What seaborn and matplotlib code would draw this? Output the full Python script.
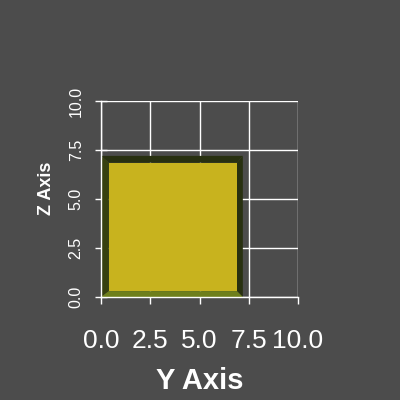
import matplotlib
matplotlib.use('Agg')
import matplotlib.pyplot as plt
import seaborn as sns

# Y/Z extents of the box (outer near edge and inner far face), in data units
outer_y = [0.0, 7.2]
outer_z = [0.0, 7.2]
inner_y = [0.4, 6.9]
inner_z = [0.3, 6.85]

ticks = [0.0, 2.5, 5.0, 7.5, 10.0]
tick_labels = ['0.0', '2.5', '5.0', '7.5', '10.0']

bg = '#4c4c4c'
face_color = '#c8b31e'
top_color = '#283010'
right_color = '#283010'
left_color = '#37400f'
bottom_color = '#6e7f1b'

sns.set_theme(style='darkgrid', rc={
    'figure.facecolor': bg,
    'axes.facecolor': bg,
    'grid.color': 'white',
    'grid.linewidth': 1.0,
})
plt.rcParams['font.family'] = ['Liberation Sans', 'DejaVu Sans']

fig = plt.figure(figsize=(4, 4), dpi=100)
ax = fig.add_axes([0.2525, 0.2575, 0.4925, 0.49])

y0, y1 = outer_y
z0, z1 = outer_z
iy0, iy1 = inner_y
iz0, iz1 = inner_z

# side bands of the box seen in perspective
ax.fill([y0, y1, iy1, iy0], [z1, z1, iz1, iz1], color=top_color, lw=0, zorder=1)
ax.fill([y0, iy0, iy0, y0], [z0, iz0, iz1, z1], color=left_color, lw=0, zorder=1)
ax.fill([y1, y1, iy1, iy1], [z0, z1, iz1, iz0], color=right_color, lw=0, zorder=1)
ax.fill([y0, y1, iy1, iy0], [z0, z0, iz0, iz0], color=bottom_color, lw=0, zorder=1)
# front face
ax.fill([iy0, iy1, iy1, iy0], [iz0, iz0, iz1, iz1], color=face_color, lw=0, zorder=1)

ax.set_xlim(0, 10)
ax.set_ylim(0, 10)
ax.set_axisbelow(True)
ax.set_xticks(ticks)
ax.set_xticklabels(tick_labels)
ax.set_yticks(ticks)
ax.set_yticklabels(tick_labels, rotation=90, va='center')

for side in ['top', 'right']:
    ax.spines[side].set_visible(False)
for side in ['left', 'bottom']:
    ax.spines[side].set_visible(True)
    ax.spines[side].set_color('white')
    ax.spines[side].set_linewidth(1.0)

ax.tick_params(axis='x', colors='white', direction='out', length=5, width=1,
               bottom=True, labelsize=19, pad=18)
ax.tick_params(axis='y', colors='white', direction='inout', length=9, width=1,
               left=True, labelsize=11.5, pad=8)

ax.set_xlabel('Y Axis', color='white', fontsize=21, fontweight='bold', va='center')
ax.set_ylabel('Z Axis', color='white', fontsize=13, fontweight='bold', va='center')
ax.xaxis.set_label_coords(0.5, -0.43)
ax.yaxis.set_label_coords(-0.275, 0.553)

fig.savefig('out.png', dpi=100, facecolor=bg)
